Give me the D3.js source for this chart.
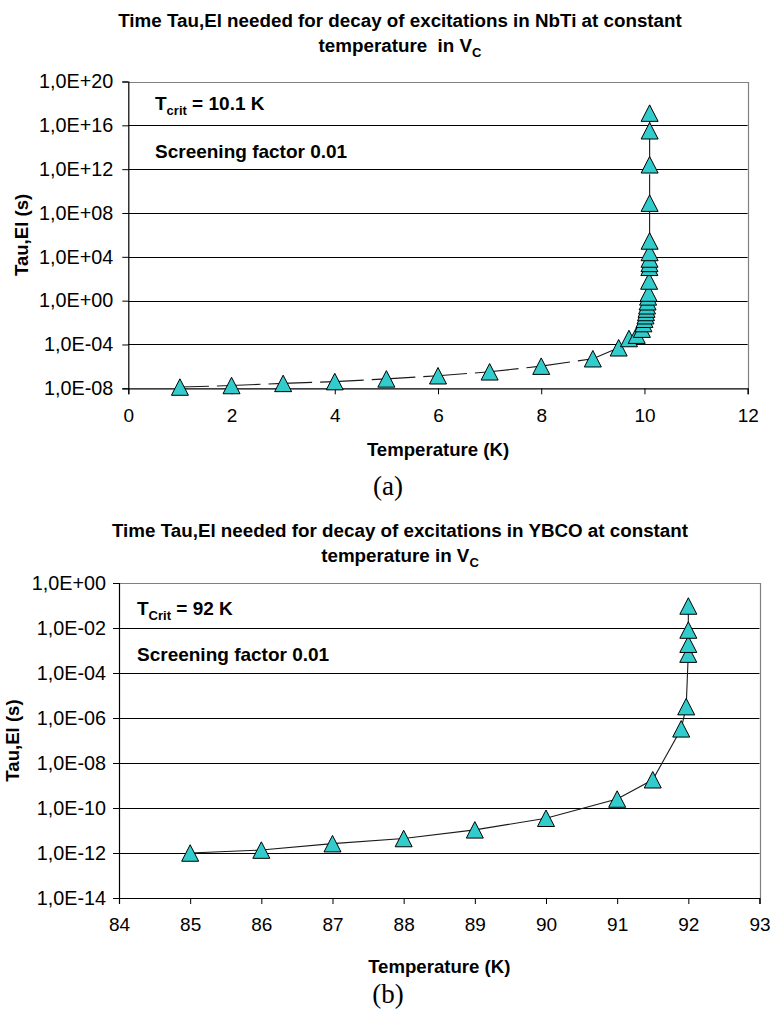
<!DOCTYPE html>
<html>
<head>
<meta charset="utf-8">
<script src="https://cdn.jsdelivr.net/npm/d3@7"></script>
<style>
  body { margin: 0; background: #fff; }
  svg { display: block; }
  text { fill: #000; }
</style>
</head>
<body>
<svg id="chart" width="777" height="1015"></svg>
<script>
// NbTi: temperature (K) and decay time Tau,El (s)
const nbtiTemp = [1, 2, 3, 4, 5, 6, 7, 8, 9, 9.5, 9.7, 9.85, 9.95, 9.98, 10.0, 10.02, 10.03,
  10.04, 10.05, 10.06, 10.07, 10.08, 10.09, 10.095, 10.097, 10.098, 10.099, 10.0995,
  10.0999, 10.09995, 10.09999, 10.1];
const nbtiTau = [1.3e-8, 1.8e-8, 2.8e-8, 4.1e-8, 7.2e-8, 1.4e-7, 3.2e-7, 1.05e-6, 5.0e-6, 5.0e-5,
  3.5e-4, 7.1e-4, 2.5e-3, 8.1e-3, 2.0e-2, 4.2e-2, 8.3e-2, 0.17, 0.34, 0.79, 2.2, 4.9, 62,
  1.1e3, 2.5e3, 6.3e3, 2.5e4, 2.8e5, 7.9e8, 2.5e12, 3.2e15, 1.3e17];

// YBCO: temperature (K) and decay time Tau,El (s)
const ybcoTemp = [85, 86, 87, 88, 89, 90, 91, 91.5, 91.9, 91.97, 91.999, 91.9995, 91.9999, 92];
const ybcoTau = [1.0e-12, 1.35e-12, 2.6e-12, 4.4e-12, 1.07e-11, 3.5e-11, 2.5e-10, 1.8e-9,
  3.3e-7, 3.2e-6, 6.9e-4, 1.9e-3, 8.1e-3, 9.5e-2];

// Axis ticks
const nbtiXTicks = [0, 2, 4, 6, 8, 10, 12];
const nbtiYTicks = [1e-8, 1e-4, 1e0, 1e4, 1e8, 1e12, 1e16, 1e20];
const ybcoXTicks = [84, 85, 86, 87, 88, 89, 90, 91, 92, 93];
const ybcoYTicks = [1e-14, 1e-12, 1e-10, 1e-8, 1e-6, 1e-4, 1e-2, 1e0];

// Texts
const nbtiTitle = ["Time Tau,El needed for decay of excitations in NbTi at constant", "temperature  in V"];
const ybcoTitle = ["Time Tau,El needed for decay of excitations in YBCO at constant", "temperature in V"];
const nbtiCrit = ["T", "crit", " = 10.1 K"];
const ybcoCrit = ["T", "Crit", " = 92 K"];
const screening = "Screening factor 0.01";
const xTitle = "Temperature (K)";
const yTitle = "Tau,El (s)";

const SANS = "'Liberation Sans', Arial, sans-serif";
const SERIF = "'Liberation Serif', 'Times New Roman', serif";
const svg = d3.select("#chart");
const fmtExp = v => {
  const e = Math.round(Math.log10(v));
  return "1,0E" + (e < 0 ? "-" : "+") + String(Math.abs(e)).padStart(2, "0");
};
const MARK = "#33cccc";
const triW = 17, triH = 16.5;
const triPath = `M0,${-triH / 2}L${triW / 2},${triH / 2}L${-triW / 2},${triH / 2}Z`;

function drawChart(o) {
  const g = svg.append("g").style("font-family", SANS);
  const x = d3.scaleLinear().domain(o.xDomain).range([o.plot.l, o.plot.r]);
  const y = d3.scaleLog().domain(o.yDomain).range([o.plot.b, o.plot.t]);

  // title
  const t = g.append("text").attr("text-anchor", "middle")
    .attr("font-weight", "bold").attr("font-size", 18.8).style("white-space", "pre");
  t.append("tspan").attr("x", 400).attr("y", o.titleY).text(o.title[0]);
  const l2 = t.append("tspan").attr("x", 400).attr("y", o.titleY + 25);
  l2.append("tspan").text(o.title[1]);
  l2.append("tspan").attr("font-size", 13).attr("dy", 5).text("C");

  // horizontal gridlines
  g.append("g").selectAll("line")
    .data(o.yTicks.filter(v => v !== o.yDomain[0] && v !== o.yDomain[1]))
    .join("line")
    .attr("x1", o.plot.l).attr("x2", o.plot.r)
    .attr("y1", d => Math.round(y(d)) + 0.5).attr("y2", d => Math.round(y(d)) + 0.5)
    .attr("stroke", "#000").attr("stroke-width", 1);

  // top & right plot border
  g.append("path")
    .attr("d", `M${o.plot.l},${Math.round(o.plot.t) + 0.5}H${Math.round(o.plot.r) + 0.5}V${o.plot.b}`)
    .attr("fill", "none").attr("stroke", "#808080").attr("stroke-width", 1.2);

  // axes
  const yAxis = d3.axisLeft(y).tickValues(o.yTicks).tickFormat(fmtExp)
    .tickSize(6).tickPadding(o.yPad);
  const ya = g.append("g").attr("transform", `translate(${o.plot.l},0)`).call(yAxis);
  const xAxis = d3.axisBottom(x).tickValues(o.xTicks).tickFormat(d3.format("d"))
    .tickSize(6).tickPadding(14);
  const xa = g.append("g").attr("transform", `translate(0,${o.plot.b})`).call(xAxis);
  [ya, xa].forEach(a => {
    a.attr("font-family", null).attr("font-size", null);
    a.selectAll("path.domain").attr("stroke", "#000").attr("stroke-width", 1.2);
    a.selectAll(".tick line").attr("stroke", "#000");
    a.selectAll("text").attr("fill", "#000");
  });
  ya.selectAll("text").attr("font-size", 19.8);
  xa.selectAll("text").attr("font-size", 19);

  // axis titles
  g.append("text").attr("text-anchor", "middle").attr("font-weight", "bold").attr("font-size", 18.6)
    .attr("x", (o.plot.l + o.plot.r) / 2).attr("y", o.plot.b + o.xTitleDy).text(xTitle);
  g.append("text").attr("text-anchor", "middle").attr("font-weight", "bold").attr("font-size", 18.6)
    .attr("transform", `translate(${o.yTitleX},${(o.plot.t + o.plot.b) / 2}) rotate(-90)`)
    .text(yTitle);

  // annotations
  const a1 = g.append("text").attr("font-weight", "bold").attr("font-size", 19)
    .attr("x", o.noteX).attr("y", o.noteY).style("white-space", "pre");
  a1.append("tspan").text(o.crit[0]);
  a1.append("tspan").attr("font-size", 13).attr("dy", 5).text(o.crit[1]);
  a1.append("tspan").attr("dy", -5).text(o.crit[2]);
  g.append("text").attr("font-weight", "bold").attr("font-size", 19)
    .attr("x", o.noteX).attr("y", o.noteY2).text(screening);

  // panel label
  g.append("text").attr("text-anchor", "middle").attr("font-size", 27)
    .style("font-family", SERIF)
    .attr("x", 388).attr("y", o.plot.b + o.panelDy).text(o.panel);

  // series line
  const pts = o.xs.map((v, i) => [v, o.ys[i]]);
  if (o.dashed) {
    g.append("g").selectAll("line").data(d3.pairs(pts)).join("line")
      .attr("x1", d => x(d[0][0])).attr("y1", d => y(d[0][1]))
      .attr("x2", d => x(d[1][0])).attr("y2", d => y(d[1][1]))
      .attr("stroke", "#1a1a1a").attr("stroke-width", 1.1)
      .attr("stroke-dasharray", "29,8");
  } else {
    g.append("path").datum(pts)
      .attr("d", d3.line().x(d => x(d[0])).y(d => y(d[1])))
      .attr("fill", "none").attr("stroke", "#1a1a1a").attr("stroke-width", 1.1);
  }

  // markers
  g.append("g").selectAll("path").data(pts).join("path")
    .attr("d", triPath)
    .attr("transform", d => `translate(${x(d[0])},${y(d[1])})`)
    .attr("fill", MARK).attr("stroke", "#000").attr("stroke-width", 1);
}

drawChart({
  xs: nbtiTemp, ys: nbtiTau, xTicks: nbtiXTicks, yTicks: nbtiYTicks,
  xDomain: [0, 12], yDomain: [1e-8, 1e20],
  plot: { l: 128.3, r: 747.7, t: 81.5, b: 388.3 },
  title: nbtiTitle, titleY: 27, crit: nbtiCrit,
  noteX: 155, noteY: 110, noteY2: 158, yPad: 9, yTitleX: 28.3,
  xTitleDy: 68, panel: "(a)", panelDy: 107, dashed: true
});

drawChart({
  xs: ybcoTemp, ys: ybcoTau, xTicks: ybcoXTicks, yTicks: ybcoYTicks,
  xDomain: [84, 93], yDomain: [1e-14, 1e0],
  plot: { l: 119, r: 759.5, t: 583, b: 898 },
  title: ybcoTitle, titleY: 537, crit: ybcoCrit,
  noteX: 137, noteY: 615, noteY2: 661, yPad: 7, yTitleX: 18.5,
  xTitleDy: 75, panel: "(b)", panelDy: 105, dashed: false
});
</script>
</body>
</html>
